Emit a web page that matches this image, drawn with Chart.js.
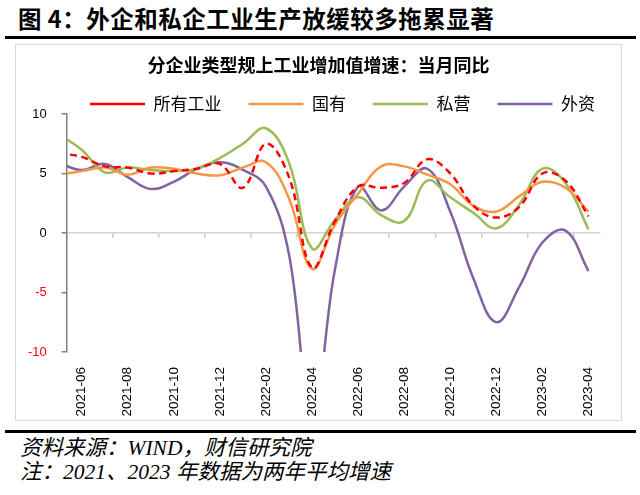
<!DOCTYPE html>
<html>
<head>
<meta charset="utf-8">
<script src="https://cdn.jsdelivr.net/npm/chart.js@4.4.0/dist/chart.umd.min.js"></script>
<style>
body{margin:0;background:#fff;width:640px;height:495px;position:relative;overflow:hidden;font-family:"Noto Sans CJK SC",sans-serif}
#title{position:absolute;left:18px;top:4px;font-size:23.5px;line-height:28px;font-weight:bold;letter-spacing:0.5px;color:#000;white-space:nowrap}
.rule{position:absolute;left:5px;width:631px;height:3px;background:#000}
#box{position:absolute;left:15px;top:44px;width:607px;height:377px;box-sizing:border-box;border:1.5px solid #d9d9d9}
#c{position:absolute;left:15px;top:44px}
.note{position:absolute;left:20px;font-size:21.5px;line-height:24px;font-style:italic;font-family:"Liberation Serif","Noto Sans CJK SC",serif;white-space:nowrap;color:#000}
</style>
</head>
<body>
<div id="title">图 4：外企和私企工业生产放缓较多拖累显著</div>
<div class="rule" style="top:36px"></div>
<div id="box"></div>
<canvas id="c" width="607" height="377"></canvas>
<div class="rule" style="top:430px"></div>
<div class="note" style="top:436px">资料来源：WIND，财信研究院</div>
<div class="note" style="top:460px">注：2021、2023 年数据为两年平均增速</div>
<script>
// months, 2021-05 is only there so the curve runs into the y axis
const months = ['2021-05','2021-06','2021-07','2021-08','2021-09','2021-10','2021-11','2021-12',
  '2022-01','2022-02','2022-03','2022-04','2022-05','2022-06','2022-07','2022-08','2022-09','2022-10',
  '2022-11','2022-12','2023-01','2023-02','2023-03','2023-04'];

// 所有工业
const allInd = [6.7, 6.4, 5.6, 5.5, 5.0, 5.2, 5.4, 5.8, 3.8, 7.5, 4.7, -2.9,
  1.0, 3.9, 3.8, 4.2, 6.2, 5.0, 2.3, 1.3, 2.2, 5.0, 4.4, 1.4];
// 国有
const stateOwned = [4.9, 5.2, 5.5, 4.9, 5.5, 5.4, 5.0, 4.85, 5.5, 5.95, 2.9, -3.0,
  0.7, 3.3, 5.6, 5.6, 4.9, 4.1, 2.3, 1.8, 3.1, 4.3, 3.8, 1.8];
// 私营
const privateEnt = [8.3, 7.0, 5.1, 5.5, 5.3, 5.2, 5.4, 6.3, 7.5, 8.8, 5.9, -1.3,
  1.1, 3.0, 1.5, 1.0, 4.4, 3.0, 1.7, 0.4, 2.4, 5.4, 4.2, 0.3];
// 外资
const foreignEnt = [5.9, 5.3, 5.8, 4.7, 3.7, 4.3, 5.4, 5.95, 5.3, 3.9, -1.8, -16.0,
  -3.0, 3.9, 1.9, 3.9, 5.4, 1.8, -3.8, -7.5, -4.5, -0.8, 0.2, -3.2];

const names = ['所有工业', '国有', '私营', '外资'];
const colors = ['#ff0000', '#f79646', '#9bbb59', '#8064a2'];

function pts(vals) {
  return vals.map((v, i) => ({x: i - 1, y: v}));
}

const cjk = '"Noto Sans CJK SC", sans-serif';
const xMin = -0.65, xMax = 22.5;

const ds = [allInd, stateOwned, privateEnt, foreignEnt].map((vals, k) => ({
  label: names[k],
  data: pts(vals),
  borderColor: colors[k],
  backgroundColor: colors[k],
  borderWidth: 2.5,
  borderDash: k === 0 ? [7, 4.5] : [],
  tension: 0.4,
  pointRadius: 0,
  clip: 0,
  xAxisID: 'x',
  yAxisID: 'y'
}));

new Chart(document.getElementById('c'), {
  type: 'line',
  data: {datasets: ds},
  options: {
    responsive: false,
    animation: false,
    devicePixelRatio: 1,
    layout: {padding: 0},
    elements: {line: {capBezierPoints: false}},
    plugins: {
      title: {
        display: true,
        text: '分企业类型规上工业增加值增速：当月同比',
        color: '#000',
        font: {family: cjk, size: 18, weight: 'bold', lineHeight: 1.2},
        padding: {top: 10.2, bottom: -7.3}
      },
      legend: {
        position: 'top',
        align: 'end',
        maxHeight: 45.5,
        labels: {
          usePointStyle: true,
          pointStyle: 'line',
          pointStyleWidth: 55,
          padding: 27,
          color: '#000',
          font: {family: cjk, size: 17}
        }
      },
      tooltip: {enabled: false}
    },
    scales: {
      x: {
        type: 'linear',
        position: 'bottom',
        min: xMin,
        max: xMax,
        grid: {display: false},
        border: {display: false},
        ticks: {
          stepSize: 2,
          includeBounds: false,
          autoSkip: false,
          minRotation: 90,
          maxRotation: 90,
          padding: 7,
          color: '#000',
          font: {family: '"Liberation Sans", Arial, sans-serif', size: 13.5},
          callback: v => Number.isInteger(v) ? months[v + 1] : ''
        },
        afterFit: s => { s.height = 69; }
      },
      x2: {
        type: 'linear',
        axis: 'x',
        position: {y: 0},
        min: xMin,
        max: xMax,
        ticks: {display: false},
        grid: {drawOnChartArea: false, drawTicks: true, tickLength: 4, color: '#c8c8c8', lineWidth: 1.5},
        border: {color: '#d4d4d4', width: 1.5},
        afterBuildTicks: s => {
          const t = [];
          for (let v = s.min; v <= s.max; v += 2) t.push({value: v});
          s.ticks = t;
        }
      },
      y: {
        min: -10,
        max: 10,
        ticks: {
          stepSize: 5,
          padding: 15,
          color: c => c.tick.value < 0 ? '#ff0000' : '#000',
          font: {family: '"Liberation Sans", Arial, sans-serif', size: 13}
        },
        grid: {drawOnChartArea: false, tickLength: 5, color: '#808080', lineWidth: 1.5},
        border: {color: '#808080', width: 1.5},
        afterFit: s => { s.width = 51.7; }
      },
      yR: {
        type: 'linear',
        axis: 'y',
        position: 'right',
        ticks: {display: false},
        grid: {display: false},
        border: {display: false},
        afterFit: s => { s.width = 22; }
      }
    }
  }
});
</script>
</body>
</html>
